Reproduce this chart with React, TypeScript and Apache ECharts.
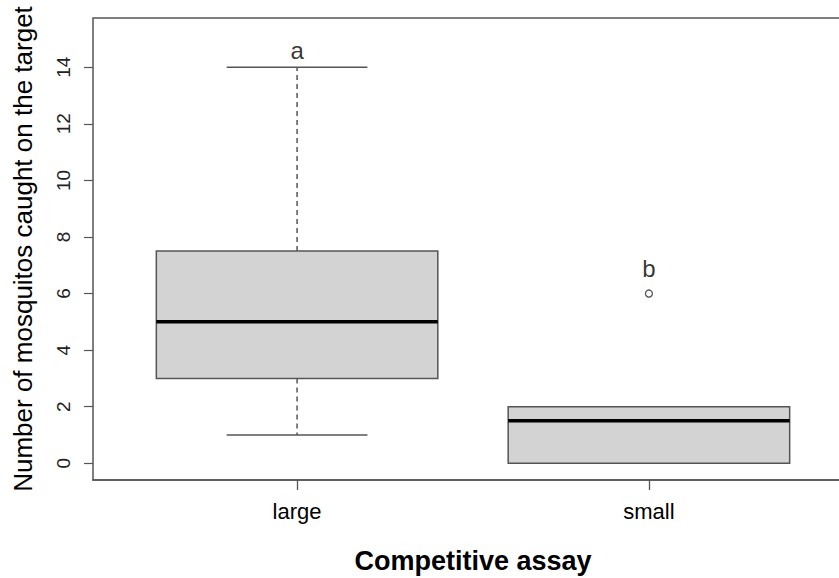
import React, { useEffect, useRef } from "react";
import * as echarts from "echarts";

const categories = ["large", "small"];
const lowWhisker = [1, 0];
const q1 = [3, 0];
const medians = [5, 1.5];
const q3 = [7.5, 2];
const highWhisker = [14, 2];
const outliers = [[2, 6]];
const letters = ["a", "b"];
const letterY = [14.6, 6.9];
const yTicks = [0, 2, 4, 6, 8, 10, 12, 14];
const xTicks = [1, 2];

export default function App() {
  const ref = useRef<HTMLDivElement>(null);
  useEffect(() => {
    if (!ref.current) return;
    const chart = echarts.init(ref.current, null, { renderer: "svg" });
    const boxData = categories.map((_, i) => [i + 1, lowWhisker[i], q1[i], medians[i], q3[i], highWhisker[i]]);
    const letterData = letters.map((l, i) => ({ value: [i + 1, letterY[i]], name: l }));
    const grey = "#555555";
    chart.setOption({
      animation: false,
      backgroundColor: "#ffffff",
      textStyle: { fontFamily: "Liberation Sans, Arial, sans-serif" },
      grid: {
        show: true,
        left: 93,
        top: 18,
        width: 760,
        height: 462,
        outerBoundsMode: "none",
        containLabel: false,
        borderColor: grey,
        borderWidth: 1.5,
        backgroundColor: "transparent",
      },
      xAxis: {
        type: "value",
        position: "bottom",
        min: 0.42,
        max: 2.58,
        axisLine: { show: true, onZero: false, lineStyle: { color: grey, width: 1.5 } },
        splitLine: { show: false },
        axisTick: { show: true, inside: false, customValues: xTicks, length: 10, lineStyle: { color: grey, width: 1.3 } },
        axisLabel: {
          customValues: xTicks,
          formatter: (v: number) => categories[Math.round(v) - 1] ?? "",
          fontSize: 22,
          color: "#000",
          margin: 20,
        },
        name: "Competitive assay",
        nameLocation: "middle",
        nameGap: 67,
        nameTextStyle: { fontSize: 27, fontWeight: "bold", color: "#000" },
      },
      yAxis: {
        type: "value",
        min: -0.59,
        max: 15.74,
        axisLine: { show: false, onZero: false },
        splitLine: { show: false },
        axisTick: { show: true, inside: false, customValues: yTicks, length: 9, lineStyle: { color: grey, width: 1.2 } },
        axisLabel: {
          customValues: yTicks,
          rotate: 90,
          fontSize: 19,
          color: "#222",
          margin: 20,
        },
        name: "Number of mosquitos caught on the target",
        nameLocation: "middle",
        nameGap: 57,
        nameTextStyle: { fontSize: 26, color: "#000" },
      },
      series: [
        {
          type: "custom",
          data: boxData,
          clip: false,
          renderItem: (params: any, api: any) => {
            const x = api.value(0);
            const lo = api.value(1);
            const a = api.value(2);
            const m = api.value(3);
            const b = api.value(4);
            const hi = api.value(5);
            const left = api.coord([x - 0.4, 0])[0];
            const right = api.coord([x + 0.4, 0])[0];
            const cx = api.coord([x, 0])[0];
            const halfCap = (right - left) / 4;
            const yLo = api.coord([x, lo])[1];
            const yA = api.coord([x, a])[1];
            const yM = api.coord([x, m])[1];
            const yB = api.coord([x, b])[1];
            const yHi = api.coord([x, hi])[1];
            const dashStyle = { stroke: grey, lineWidth: 1.5, lineDash: [5, 4] };
            const solid = { stroke: grey, lineWidth: 1.5 };
            return {
              type: "group",
              children: [
                { type: "line", shape: { x1: cx, y1: yB, x2: cx, y2: yHi }, style: dashStyle },
                { type: "line", shape: { x1: cx, y1: yA, x2: cx, y2: yLo }, style: dashStyle },
                { type: "line", shape: { x1: cx - halfCap, y1: yHi, x2: cx + halfCap, y2: yHi }, style: solid },
                { type: "line", shape: { x1: cx - halfCap, y1: yLo, x2: cx + halfCap, y2: yLo }, style: solid },
                {
                  type: "rect",
                  shape: { x: left, y: yB, width: right - left, height: yA - yB },
                  style: { fill: "#d3d3d3", stroke: grey, lineWidth: 1.5 },
                },
                { type: "line", shape: { x1: left, y1: yM, x2: right, y2: yM }, style: { stroke: "#000", lineWidth: 3.5 } },
              ],
            };
          },
        },
        {
          type: "scatter",
          data: outliers,
          symbol: "circle",
          symbolSize: 7,
          itemStyle: { color: "#ffffff", borderColor: grey, borderWidth: 1.3, opacity: 1 },
          z: 5,
        },
        {
          type: "scatter",
          data: letterData,
          symbolSize: 0,
          label: {
            show: true,
            position: "inside",
            formatter: (p: any) => p.name,
            fontSize: 24,
            color: "#000",
          },
        },
      ],
    });
    return () => chart.dispose();
  }, []);
  return (
    <div
      ref={ref}
      style={{ position: "fixed", left: 0, top: 0, width: 839, height: 578 }}
    />
  );
}
